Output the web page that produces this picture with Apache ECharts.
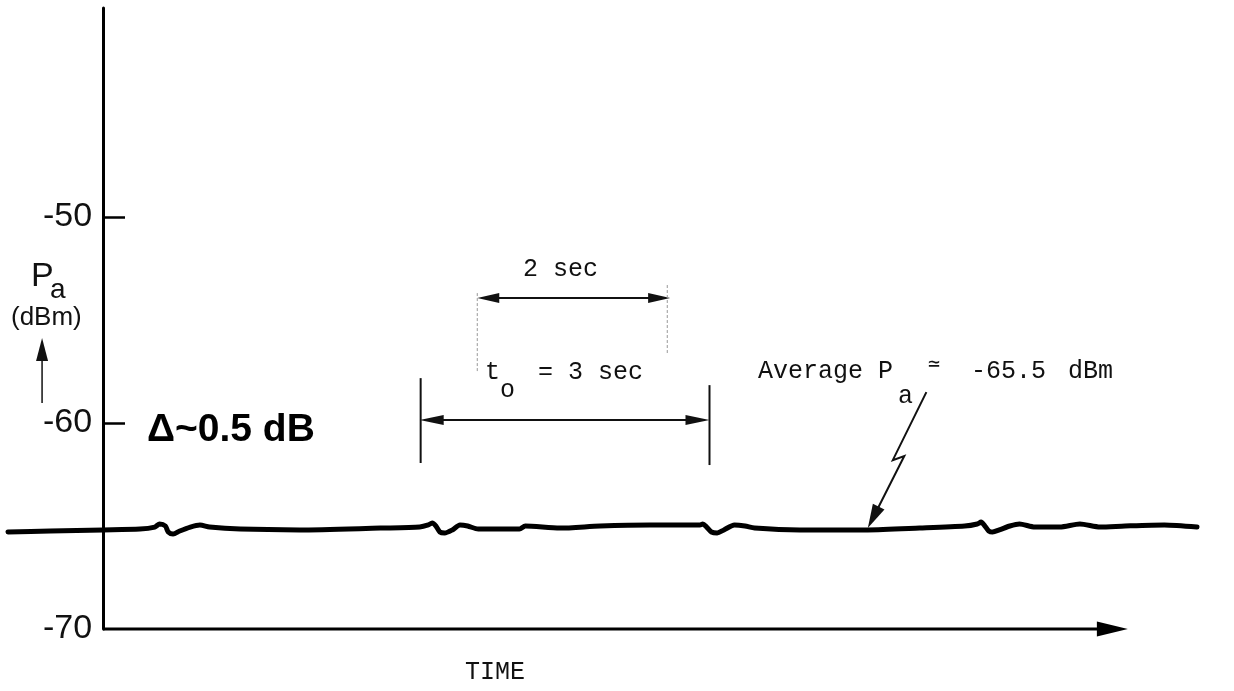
<!DOCTYPE html>
<html><head><meta charset="utf-8">
<script src="https://cdn.jsdelivr.net/npm/echarts@6/dist/echarts.min.js"></script>
<style>html,body{margin:0;padding:0;background:#fff}#c{width:1234px;height:691px}</style>
</head><body><div id="c"></div>
<script>
// Received power trace (time in seconds from the y axis, power in dBm)
const timeSec = [-0.99,-0.55,0,0.385,0.54,0.59,0.65,0.68,0.73,0.80,0.91,1.01,1.11,1.43,2.05,2.89,3.30,3.39,3.43,3.47,3.51,3.56,3.64,3.72,3.80,3.91,4.34,4.40,4.76,5.18,5.70,6.22,6.25,6.29,6.34,6.40,6.47,6.58,6.69,6.79,7.26,7.97,8.51,8.98,9.11,9.15,9.19,9.23,9.27,9.34,9.45,9.55,9.71,9.97,10.18,10.39,10.65,11.06,11.40];
const powerDbm = [-65.29,-65.24,-65.19,-65.15,-65.05,-64.90,-65.00,-65.29,-65.39,-65.24,-65.05,-64.95,-65.05,-65.15,-65.19,-65.10,-65.05,-64.95,-64.85,-65.00,-65.29,-65.34,-65.19,-64.95,-65.00,-65.15,-65.15,-65.00,-65.10,-65.00,-64.95,-64.95,-64.90,-65.05,-65.29,-65.34,-65.19,-64.95,-65.00,-65.10,-65.19,-65.19,-65.10,-65.00,-64.90,-64.81,-65.00,-65.24,-65.29,-65.19,-65.00,-64.90,-65.05,-65.05,-64.90,-65.05,-65.00,-64.95,-65.05];
const yLabelValues = [-70, -60, -50];
const yTickValues = [-60, -50];

// annotation geometry in data units (seconds, dBm)
const timeAxisArrow = [[0, -70], [10.68, -70]];
const span2Arrow = [[3.90, -53.93], [5.91, -53.93]];
const span3Arrow = [[3.30, -59.85], [6.32, -59.85]];
const span2GuideL = [[3.90, -53.69], [3.90, -57.52]];
const span2GuideR = [[5.88, -53.30], [5.88, -56.60]];
const span3GuideL = [[3.31, -57.82], [3.31, -61.94]];
const span3GuideR = [[6.32, -58.16], [6.32, -62.04]];
const unitArrow = [[-0.635, -59.03], [-0.635, -55.87]];
const averagePointer = [[8.58, -58.50], [8.23, -61.80], [8.35, -61.60], [7.97, -65.10]];

const shapes = [
  {pts: timeAxisArrow, w: 3, c: '#000', end: true, hl: 31, hw: 7.5},
  {pts: span2Arrow, w: 2, c: '#111', start: true, end: true, hl: 22, hw: 5},
  {pts: span3Arrow, w: 2, c: '#111', start: true, end: true, hl: 24, hw: 5},
  {pts: span2GuideL, w: 1, c: '#999', dash: [3, 2]},
  {pts: span2GuideR, w: 1, c: '#999', dash: [3, 2]},
  {pts: span3GuideL, w: 2, c: '#111'},
  {pts: span3GuideR, w: 2, c: '#111'},
  {pts: unitArrow, w: 1.5, c: '#111', end: true, hl: 23, hw: 6},
  {pts: averagePointer, w: 2, c: '#111', end: true, hl: 24, hw: 6.5}
];

const chart = echarts.init(document.getElementById('c'), null, {renderer: 'canvas'});

function renderShape(params, api) {
  const s = shapes[params.dataIndex];
  const p = s.pts.map(d => api.coord(d));
  const children = [];
  function head(tip, from) {
    const dx = tip[0] - from[0], dy = tip[1] - from[1];
    const L = Math.hypot(dx, dy) || 1;
    const ux = dx / L, uy = dy / L;
    const bx = tip[0] - ux * s.hl, by = tip[1] - uy * s.hl;
    return {
      base: [bx + ux * 2, by + uy * 2],
      el: {type: 'polygon', shape: {points: [tip, [bx - uy * s.hw, by + ux * s.hw], [bx + uy * s.hw, by - ux * s.hw]]},
           style: {fill: s.c}}
    };
  }
  const line = p.slice();
  if (s.end) { const h = head(p[p.length - 1], p[p.length - 2]); line[line.length - 1] = h.base; children.push(h.el); }
  if (s.start) { const h = head(p[0], p[1]); line[0] = h.base; children.push(h.el); }
  children.unshift({type: 'polyline', shape: {points: line},
    style: {stroke: s.c, lineWidth: s.w, fill: null, lineDash: s.dash || null, lineJoin: 'miter'}});
  return {type: 'group', children};
}

const mono = '"Liberation Mono", "DejaVu Sans Mono", monospace';
const sans = '"Liberation Sans", Arial, sans-serif';
function txt(text, x, y, size, family, extra) {
  return Object.assign({type: 'text', x, y, silent: true,
    style: Object.assign({text, fontSize: size, fontFamily: family, fill: '#111', align: 'left', verticalAlign: 'middle'}, extra || {})});
}

chart.setOption({
  animation: false,
  backgroundColor: '#fff',
  grid: {left: 8, right: 37, top: 8, bottom: 62, containLabel: false, outerBoundsMode: 'none'},
  xAxis: {type: 'value', min: -0.99, max: 11.40,
    axisLine: {show: false}, axisTick: {show: false}, axisLabel: {show: false}, splitLine: {show: false}},
  yAxis: [
    {type: 'value', min: -70, max: -39.85, interval: 10,
      axisLine: {show: true, onZero: true, lineStyle: {color: '#000', width: 3}},
      axisTick: {show: true, inside: true, length: 22, customValues: yTickValues, lineStyle: {color: '#000', width: 2.5}},
      axisLabel: {show: false}, splitLine: {show: false}},
    {type: 'value', min: -70, max: -39.85, interval: 10, position: 'left', offset: 0,
      axisLine: {show: false, onZero: false}, axisTick: {show: false},
      axisLabel: {show: true, inside: true, margin: 35, showMinLabel: true, showMaxLabel: true,
        fontSize: 34, fontFamily: sans, color: '#111', padding: [4, 0, 0, 0],
        formatter: v => (yLabelValues.indexOf(v) >= 0 ? String(v) : '')},
      splitLine: {show: false}}
  ],
  series: [
    {type: 'line', data: timeSec.map((t, i) => [t, powerDbm[i]]), smooth: 0.25, showSymbol: false, symbol: 'none',
      lineStyle: {color: '#000', width: 5, cap: 'round', join: 'round'}, z: 3, silent: true},
    {type: 'custom', renderItem: renderShape, data: shapes.map(s => s.pts[0]), clip: false, silent: true, z: 4}
  ],
  graphic: [
    txt('P', 31, 277, 34, sans),
    txt('a', 50, 290, 28, sans),
    txt('(dBm)', 11, 318, 26, sans),
    txt('\u0394~0.5 dB', 147, 430, 39, sans, {fontWeight: 'bold', fill: '#000'}),
    txt('2 sec', 523, 269, 25, mono),
    txt('t', 485, 372, 25, mono),
    txt('o', 500, 390, 25, mono),
    txt('= 3 sec', 538, 372, 25, mono),
    txt('Average P', 758, 371, 25, mono),
    txt('a', 898, 396, 25, mono),
    txt('\u2243', 928, 365, 20, mono),
    txt('-65.5', 971, 371, 25, mono),
    txt('dBm', 1068, 371, 25, mono),
    txt('TIME', 465, 672, 25, mono)
  ]
});
</script>
</body></html>
